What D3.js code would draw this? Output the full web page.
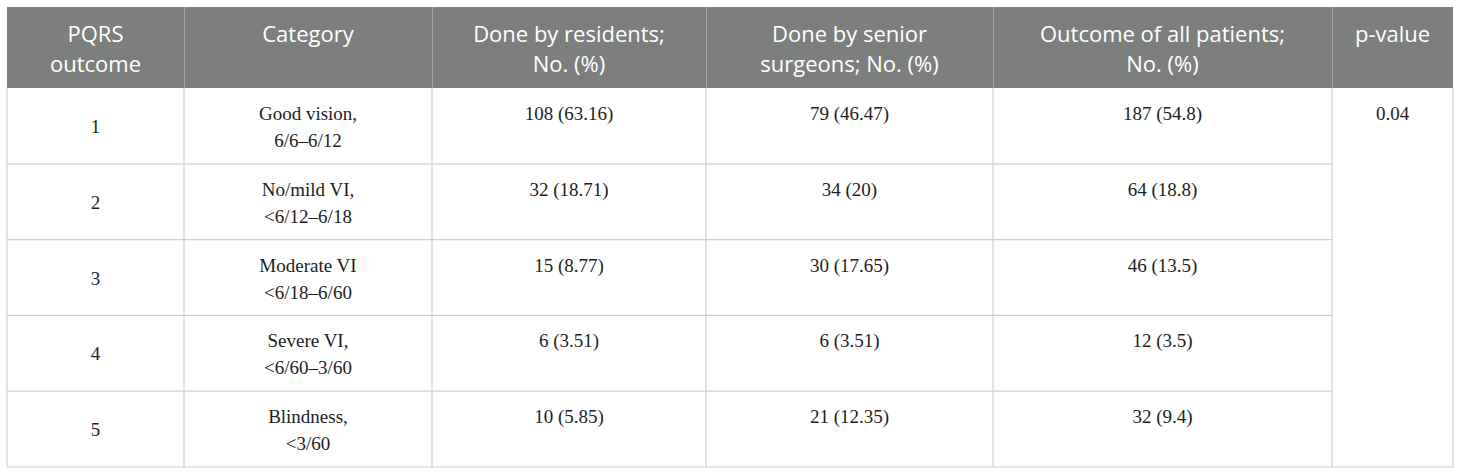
<!DOCTYPE html>
<html lang="en">
<head>
<meta charset="UTF-8">
<title>PQRS outcome table</title>
<script src="https://d3js.org/d3.v7.min.js"></script>
<style>
  body { margin: 0; background: #fff; }
  .head { font-family: "Open Sans", sans-serif; font-size: 22px; fill: #fff; }
  .cell { font-family: "Liberation Serif", serif; font-size: 19px; fill: #1e1e1e; }
</style>
</head>
<body>
<svg id="table"></svg>
<script>
// data
var headers = [
  ["PQRS", "outcome"],
  ["Category"],
  ["Done by residents;", "No. (%)"],
  ["Done by senior", "surgeons; No. (%)"],
  ["Outcome of all patients;", "No. (%)"],
  ["p-value"]
];
var outcomes = ["1", "2", "3", "4", "5"];
var categories = [
  ["Good vision,", "6/6\u20136/12"],
  ["No/mild VI,", "<6/12\u20136/18"],
  ["Moderate VI", "<6/18\u20136/60"],
  ["Severe VI,", "<6/60\u20133/60"],
  ["Blindness,", "<3/60"]
];
var residents = ["108 (63.16)", "32 (18.71)", "15 (8.77)", "6 (3.51)", "10 (5.85)"];
var seniors = ["79 (46.47)", "34 (20)", "30 (17.65)", "6 (3.51)", "21 (12.35)"];
var allPatients = ["187 (54.8)", "64 (18.8)", "46 (13.5)", "12 (3.5)", "32 (9.4)"];
var pValue = "0.04";

// layout
var W = 1460, H = 476;
var colEdges = [7, 184, 432, 706, 993, 1332, 1453];
var top0 = 7, headBottom = 88, bottom = 467;
var lineColor = "#cfcfcf";

var svg = d3.select("#table").attr("width", W).attr("height", H);

var y = d3.scaleBand().domain(outcomes).range([headBottom, bottom]);
var colMid = function(i) { return (colEdges[i] + colEdges[i + 1]) / 2; };

// header
svg.append("rect")
  .attr("x", colEdges[0]).attr("y", top0)
  .attr("width", colEdges[6] - colEdges[0]).attr("height", headBottom - top0)
  .attr("fill", "#7d7f7e");

svg.selectAll("line.hsep")
  .data(colEdges.slice(1, 6))
  .enter().append("line")
  .attr("x1", d => d + 0.5).attr("x2", d => d + 0.5)
  .attr("y1", top0).attr("y2", headBottom)
  .attr("stroke", "#a3a5a4").attr("stroke-width", 1);

headers.forEach(function(lines, i) {
  lines.forEach(function(s, k) {
    svg.append("text").attr("class", "head")
      .attr("text-anchor", "middle")
      .attr("x", colMid(i)).attr("y", 42 + k * 30)
      .text(s);
  });
});

// body grid
var g = svg.append("g").attr("stroke", lineColor).attr("stroke-width", 1.2);
g.selectAll("line.row")
  .data(outcomes.slice(1))
  .enter().append("line")
  .attr("x1", colEdges[0]).attr("x2", colEdges[5])
  .attr("y1", d => y(d)).attr("y2", d => y(d));
g.append("line")
  .attr("x1", colEdges[0]).attr("x2", colEdges[6])
  .attr("y1", bottom).attr("y2", bottom);
g.selectAll("line.col")
  .data(colEdges)
  .enter().append("line")
  .attr("x1", d => d).attr("x2", d => d)
  .attr("y1", headBottom).attr("y2", bottom);

// body text
svg.selectAll("text.num")
  .data(outcomes)
  .enter().append("text").attr("class", "cell")
  .attr("text-anchor", "middle")
  .attr("x", colMid(0))
  .attr("y", d => y(d) + 45)
  .text(d => d);

outcomes.forEach(function(o, r) {
  categories[r].forEach(function(s, k) {
    svg.append("text").attr("class", "cell")
      .attr("text-anchor", "middle")
      .attr("x", colMid(1)).attr("y", y(o) + 32 + k * 27)
      .text(s);
  });
});

[residents, seniors, allPatients].forEach(function(vals, c) {
  svg.selectAll("text.v" + c)
    .data(vals)
    .enter().append("text").attr("class", "cell")
    .attr("text-anchor", "middle")
    .attr("x", colMid(c + 2))
    .attr("y", (d, i) => y(outcomes[i]) + 32)
    .text(d => d);
});

svg.append("text").attr("class", "cell")
  .attr("text-anchor", "middle")
  .attr("x", colMid(5))
  .attr("y", y(outcomes[0]) + 32)
  .text(pValue);
</script>
</body>
</html>
